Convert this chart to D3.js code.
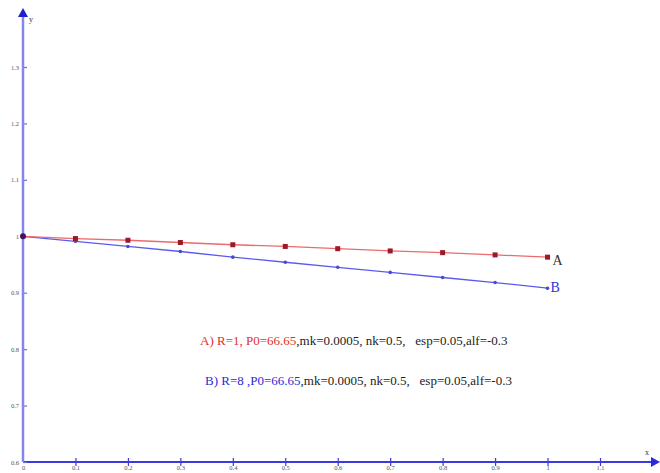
<!DOCTYPE html>
<html>
<head>
<meta charset="utf-8">
<script src="https://cdn.jsdelivr.net/npm/d3@7"></script>
<style>
  body { margin: 0; background: #fff; }
  .tick text { font-family: "Liberation Serif", serif; font-size: 6.5px; fill: #555; }
  .note { font-family: "Liberation Serif", serif; font-size: 13px; white-space: pre; }
</style>
</head>
<body>
<script>
// x positions and the two curves
var xs = [0, 0.1, 0.2, 0.3, 0.4, 0.5, 0.6, 0.7, 0.8, 0.9, 1]
var seriesA = [1, 0.996, 0.993, 0.989, 0.985, 0.982, 0.978, 0.974, 0.971, 0.967, 0.963]
var seriesB = [1, 0.991, 0.982, 0.973, 0.963, 0.954, 0.945, 0.936, 0.927, 0.918, 0.908]
var xTicks = [0, 0.1, 0.2, 0.3, 0.4, 0.5, 0.6, 0.7, 0.8, 0.9, 1, 1.1]
var yTicks = [0.6, 0.7, 0.8, 0.9, 1, 1.1, 1.2, 1.3]
var noteA = [["A) R=1, P0=66.65", "#e0302a"], [",mk=0.0005, nk=0.5,   esp=0.05,alf=-0.3", "#222"]]
var noteB = [["B) R=8 ,P0=66.65", "#2b2bd8"], [",mk=0.0005, nk=0.5,   esp=0.05,alf=-0.3", "#222"]]

var width = 660, height = 473
var svg = d3.select('body').append('svg').attr('width', width).attr('height', height)

var x = d3.scaleLinear().domain([0, 1.1]).range([23, 600])
var y = d3.scaleLinear().domain([0.6, 1.3]).range([462, 67])

function fmt(d) { return d === 0 ? '0' : Math.abs(d - 1) < 1e-9 ? '1' : d3.format('.1f')(d) }

// x axis
var xAxis = d3.axisBottom(x).tickValues(xTicks).tickSize(4).tickFormat(fmt)
var gx = svg.append('g').attr('transform', 'translate(0,' + y(0.6) + ')').call(xAxis)
gx.select('.domain').remove()
gx.selectAll('.tick line').attr('y1', -4).attr('stroke', '#3a3ae0').attr('stroke-width', 1.2)
gx.selectAll('.tick text').attr('y', 3).attr('dy', '0.7em')
gx.selectAll('.tick').filter(function (d) { return d === 0 }).select('line').remove()
svg.append('line').attr('x1', 23).attr('x2', 652).attr('y1', y(0.6)).attr('y2', y(0.6))
    .attr('stroke', '#3a3ae0').attr('stroke-width', 2)
svg.append('path').attr('d', 'M660,' + y(0.6) + 'L651,' + (y(0.6) - 5) + 'L651,' + (y(0.6) + 5) + 'Z')
    .attr('fill', '#2a2ae0')
svg.append('text').attr('x', 645).attr('y', 455).attr('class', 'note').style('font-size', '8px')
    .attr('fill', '#333').text('x')

// y axis
var yAxis = d3.axisLeft(y).tickValues(yTicks).tickSize(4).tickFormat(fmt)
var gy = svg.append('g').attr('transform', 'translate(' + x(0) + ',0)').call(yAxis)
gy.select('.domain').remove()
gy.selectAll('.tick line').attr('x1', 4).attr('x2', 0).attr('stroke', '#6a6ae8').attr('stroke-width', 1.2)
gy.selectAll('.tick text').attr('x', -4)
svg.append('line').attr('x1', 23).attr('x2', 23).attr('y1', y(0.6)).attr('y2', 16)
    .attr('stroke', '#8585ee').attr('stroke-width', 2.5)
svg.append('path').attr('d', 'M23,8L18,17L28,17Z').attr('fill', '#2020c8')
svg.append('text').attr('x', 29).attr('y', 22).attr('class', 'note').style('font-size', '8px')
    .attr('fill', '#333').text('y')

// curves
var line = d3.line().x(function (d) { return x(d[0]) }).y(function (d) { return y(d[1]) })
var dataA = d3.zip(xs, seriesA), dataB = d3.zip(xs, seriesB)

svg.append('path').datum(dataB).attr('d', line).attr('fill', 'none')
    .attr('stroke', '#5a5af0').attr('stroke-width', 1.3)
svg.append('path').datum(dataA).attr('d', line).attr('fill', 'none')
    .attr('stroke', '#ec6a6a').attr('stroke-width', 1.3)

svg.selectAll('.ptB').data(dataB.slice(1)).enter().append('circle').attr('class', 'ptB')
    .attr('cx', function (d) { return x(d[0]) }).attr('cy', function (d) { return y(d[1]) })
    .attr('r', 1.8).attr('fill', '#4848d0')
svg.selectAll('.ptA').data(dataA.slice(1)).enter().append('rect').attr('class', 'ptA')
    .attr('x', function (d) { return x(d[0]) - 2.5 }).attr('y', function (d) { return y(d[1]) - 2.5 })
    .attr('width', 5).attr('height', 5).attr('fill', '#9a1a2a')
svg.append('circle').attr('cx', x(0)).attr('cy', y(1)).attr('r', 3).attr('fill', '#4a1060')

svg.append('text').attr('class', 'note').style('font-size', '14px').attr('x', x(1) + 5).attr('y', y(seriesA[10]) + 8)
    .attr('fill', '#333').text('A')
svg.append('text').attr('class', 'note').style('font-size', '14px').attr('x', x(1) + 3).attr('y', y(seriesB[10]) + 4)
    .attr('fill', '#3030d8').text('B')

// notes
function note(parts, px, py) {
    var t = svg.append('text').attr('class', 'note').attr('x', px).attr('y', py)
    parts.forEach(function (p) { t.append('tspan').attr('fill', p[1]).text(p[0]) })
}
note(noteA, 200, 345)
note(noteB, 205, 385)
</script>
</body>
</html>
